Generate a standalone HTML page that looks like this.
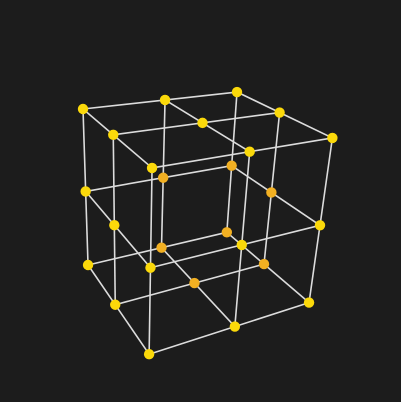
<!DOCTYPE html>
<html><head><meta charset="utf-8"><style>
html,body{margin:0;padding:0;background:#1c1c1c;}
svg{display:block;}
</style></head><body>
<svg id="chart" width="401" height="402" viewBox="0 0 401 402">
<rect x="0" y="0" width="401" height="402" fill="#1c1c1c"/>
<g id="edges"></g>
<g id="nodes"></g>
</svg>
<script>
// lattice index values per axis
const xValues = [0, 1, 2];
const yValues = [0, 1, 2];
const zValues = [0, 1, 2];
// nodes drawn in the darker orange tone (back / hidden nodes)
const orangeNodes = [[1,1,0],[2,1,0],[2,2,0],[1,2,0],[2,1,1],[2,2,1],[1,2,1]];

// perspective projection (axis functions)
function denom(x,y,z){ return 1 + 0.07*x + 0.06*y - 0.11*z; }
function projX(x,y,z){ return (83 + 93.6*x + 7.8*y + 17.8*z) / denom(x,y,z); }
function projY(x,y,z){ return (109 - 2.05*x + 93.9*y + 11.0*z) / denom(x,y,z); }

const NS = 'http://www.w3.org/2000/svg';
const edges = document.getElementById('edges');
const nodes = document.getElementById('nodes');
const isCenter = (a,b) => a === 1 && b === 1;

function line(p, q, name){
  const l = document.createElementNS(NS,'line');
  l.setAttribute('x1', projX(...p)); l.setAttribute('y1', projY(...p));
  l.setAttribute('x2', projX(...q)); l.setAttribute('y2', projY(...q));
  l.setAttribute('stroke','#dcdcdc'); l.setAttribute('stroke-width','1.6');
  
  
  edges.appendChild(l);
}
const lo = xValues[0], hi = xValues[xValues.length-1];
// lines along x
yValues.forEach(y => zValues.forEach(z => { if(!isCenter(y,z)) line([lo,y,z],[hi,y,z],'edge-x'); }));
// lines along y
xValues.forEach(x => zValues.forEach(z => { if(!isCenter(x,z)) line([x,lo,z],[x,hi,z],'edge-y'); }));
// lines along z
xValues.forEach(x => yValues.forEach(y => { if(!isCenter(x,y)) line([x,y,lo],[x,y,hi],'edge-z'); }));

xValues.forEach(x => yValues.forEach(y => zValues.forEach(z => {
  if (x===1 && y===1 && z===1) return;
  const orange = orangeNodes.some(o => o[0]===x && o[1]===y && o[2]===z);
  const c = document.createElementNS(NS,'circle');
  c.setAttribute('cx', projX(x,y,z)); c.setAttribute('cy', projY(x,y,z));
  c.setAttribute('r', 5.2);
  c.setAttribute('fill', orange ? '#f2b022' : '#fbd90a');
  
  
  nodes.appendChild(c);
})));
</script>
</body></html>
